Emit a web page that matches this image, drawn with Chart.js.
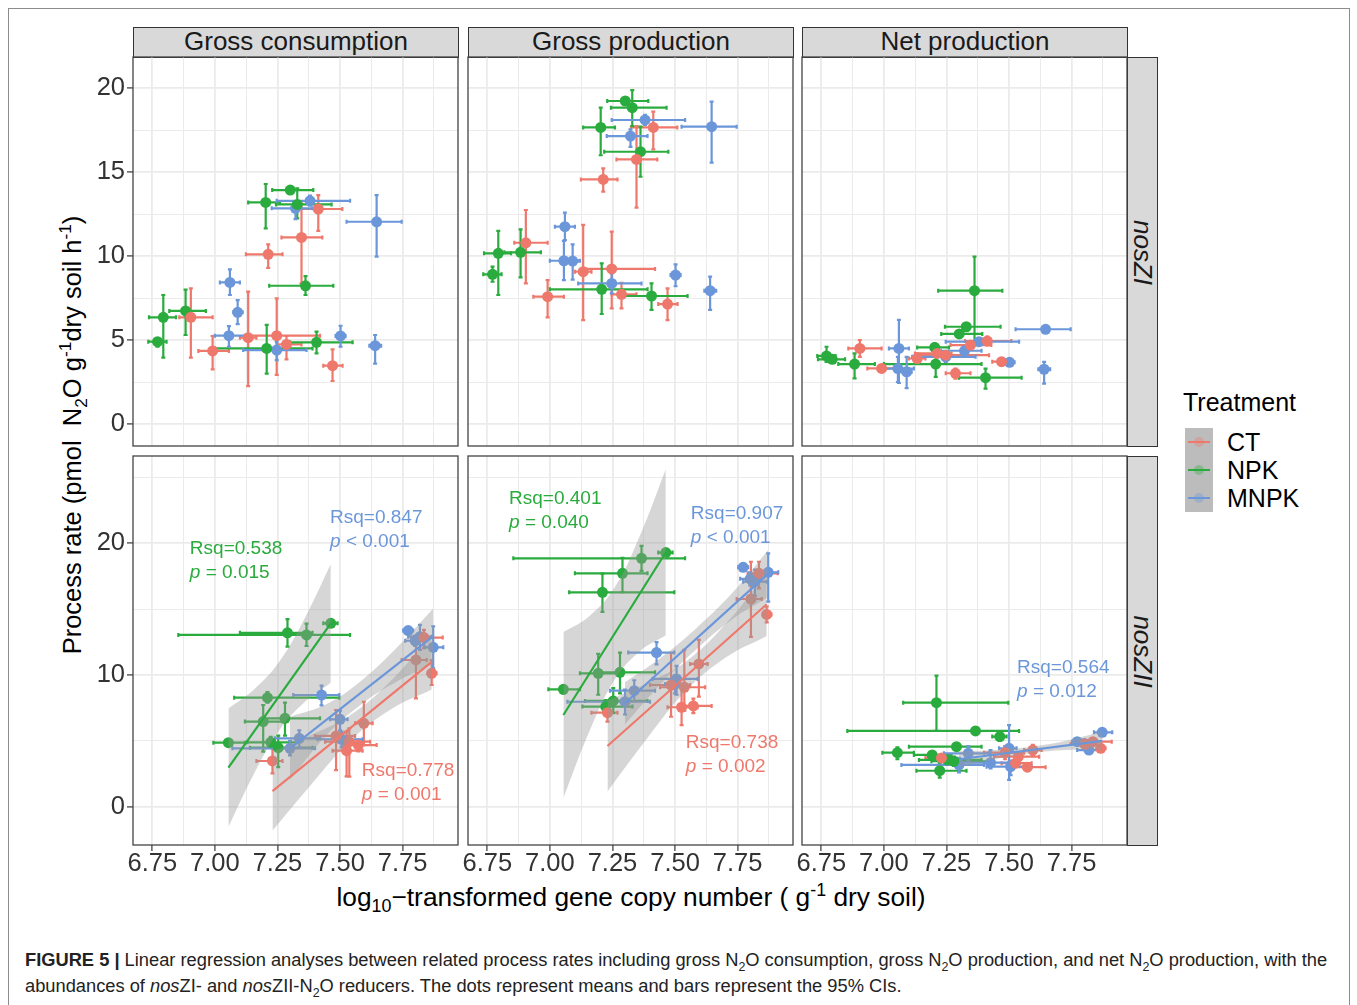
<!DOCTYPE html>
<html>
<head>
<meta charset="utf-8">
<title>Figure 5</title>
<script src="https://cdn.jsdelivr.net/npm/chart.js@4.4.1/dist/chart.umd.min.js"></script>
<style>
  body { margin: 0; width: 1357px; height: 1005px; background: #fff; position: relative; overflow: hidden;
         font-family: "Liberation Sans", Arial, sans-serif; color: #1a1a1a; }
  #frame { position: absolute; left: 8px; top: 8px; width: 1342px; height: 1002px; border: 1px solid #8c8c8c; box-sizing: border-box; }
  canvas { position: absolute; }
  .strip { position: absolute; background: #d9d9d9; border: 1px solid #333; box-sizing: border-box;
           font-size: 26px; display: flex; align-items: center; justify-content: center; white-space: nowrap; padding-bottom: 2px; }
  .strip.side { padding-bottom: 0; }
  .strip.side span { display: inline-block; transform: rotate(90deg); font-style: italic; }
  .title { position: absolute; font-size: 25.5px; white-space: nowrap; color: #000; }
  sub, sup { font-size: 68%; line-height: 0; }
  #legend { position: absolute; left: 1183px; top: 388px; }
  #legend .head { font-size: 25px; color: #000; }
  .key { position: absolute; left: 2px; width: 28px; height: 28px; background: #bcbcbc; }
  .key i { position: absolute; left: 9px; top: 9px; width: 10px; height: 10px; border-radius: 50%; opacity: 0.35; }
  .key b { position: absolute; left: 3px; right: 3px; top: 13px; height: 2px; }
  .klab { position: absolute; left: 44px; font-size: 25px; line-height: 28px; color: #000; }
  #caption { position: absolute; left: 25px; top: 947px; font-size: 18.3px; line-height: 26px; color: #222; white-space: nowrap; }
</style>
</head>
<body>
<div id="frame"></div>

<div class="strip" style="left:133px;top:27px;width:326px;height:31px;">Gross consumption</div>
<div class="strip" style="left:468px;top:27px;width:326px;height:31px;">Gross production</div>
<div class="strip" style="left:802px;top:27px;width:326px;height:31px;">Net production</div>
<div class="strip side" style="left:1127px;top:57px;width:31px;height:390px;"><span>nosZI</span></div>
<div class="strip side" style="left:1127px;top:456px;width:31px;height:390px;"><span>nosZII</span></div>

<div class="title" id="ytitle" style="left:72px;top:435px;transform:translate(-50%,-50%) rotate(-90deg);">Process rate (pmol&nbsp; N<sub>2</sub>O g<sup>-1</sup>dry soil h<sup>-1</sup>)</div>
<div class="title" id="xtitle" style="left:631px;top:897px;font-size:26.3px;transform:translate(-50%,-50%);">log<sub>10</sub>&minus;transformed gene copy number ( g<sup>-1</sup> dry soil)</div>

<div id="legend">
  <div class="head">Treatment</div>
  <div class="key" style="top:40px;"><i style="background:#ee786c"></i><b style="background:#ee786c"></b></div>
  <div class="klab" style="top:40px;">CT</div>
  <div class="key" style="top:68px;"><i style="background:#2aab3e"></i><b style="background:#2aab3e"></b></div>
  <div class="klab" style="top:68px;">NPK</div>
  <div class="key" style="top:96px;"><i style="background:#6b97da"></i><b style="background:#6b97da"></b></div>
  <div class="klab" style="top:96px;">MNPK</div>
</div>

<div id="caption"><b>FIGURE 5 |</b> Linear regression analyses between related process rates including gross N<sub>2</sub>O consumption, gross N<sub>2</sub>O production, and net N<sub>2</sub>O production, with the<br>abundances of <i>nos</i>ZI- and <i>nos</i>ZII-N<sub>2</sub>O reducers. The dots represent means and bars represent the 95% CIs.</div>

<script>
// colores por tratamiento
const treatments = ['CT', 'NPK', 'MNPK'];
const colorOf = { CT: '#ee786c', NPK: '#2aab3e', MNPK: '#6b97da' };

// abundancia nosZI (log10), [media, IC inferior, IC superior]
const zI_CT_x   = [[6.904,6.858,6.991],[6.991,6.934,7.056],[7.133,7.100,7.166],[7.213,7.124,7.270],[7.247,7.133,7.420],[7.286,7.247,7.346],[7.346,7.266,7.429],[7.413,7.324,7.509],[7.470,7.433,7.510]];
const zI_NPK_x  = [[6.771,6.734,6.807],[6.794,6.737,6.845],[6.883,6.818,6.964],[7.203,7.133,7.260],[7.301,7.229,7.393],[7.329,7.244,7.466],[7.362,7.217,7.473],[7.207,7.000,7.390],[7.406,7.300,7.550]];
const zI_MNPK_x = [[7.060,7.020,7.100],[7.091,7.074,7.111],[7.056,7.000,7.120],[7.247,7.113,7.366],[7.322,7.227,7.390],[7.380,7.247,7.540],[7.646,7.526,7.746],[7.502,7.482,7.522],[7.640,7.617,7.664]];

// abundancia nosZII (log10)
const zII_CT_x   = [[7.230,7.166,7.270],[7.484,7.400,7.560],[7.526,7.470,7.590],[7.537,7.440,7.620],[7.573,7.513,7.646],[7.595,7.560,7.630],[7.803,7.746,7.846],[7.835,7.790,7.910],[7.866,7.850,7.885]];
const zII_NPK_x  = [[7.054,6.994,7.120],[7.290,7.100,7.390],[7.366,6.854,7.540],[7.463,7.433,7.490],[7.210,7.077,7.497],[7.193,7.120,7.270],[7.280,7.190,7.420],[7.223,7.130,7.330],[7.253,7.140,7.390]];
const zII_MNPK_x = [[7.300,7.070,7.400],[7.337,7.240,7.420],[7.426,7.313,7.497],[7.500,7.460,7.530],[7.506,7.410,7.590],[7.772,7.752,7.792],[7.800,7.760,7.840],[7.819,7.772,7.866],[7.872,7.839,7.912]];

// tasas (pmol N2O g-1 h-1), [media, IC inferior, IC superior]
const gc_zI_CT   = [[6.35,3.95,8.08],[4.35,3.25,5.24],[5.14,2.26,7.88],[10.1,9.3,10.7],[5.26,2.92,7.48],[4.74,3.85,5.24],[11.11,8.37,13.1],[12.8,11.5,13.63],[3.47,2.56,4.44]];
const gc_zI_NPK  = [[4.9,4.6,5.1],[6.35,3.95,7.68],[6.73,5.3,8.0],[13.19,11.65,14.29],[13.93,13.7,14.1],[13.07,12.24,14.03],[8.23,7.68,8.8],[4.5,3.0,5.9],[4.86,4.2,5.5]];
const gc_zI_MNPK = [[8.43,7.68,9.2],[6.65,5.95,7.38],[5.26,4.6,5.83],[4.4,3.8,4.9],[12.84,12.2,13.2],[13.29,13.0,13.6],[12.04,9.96,13.63],[5.24,4.6,5.85],[4.66,3.6,5.3]];

const gp_zI_CT   = [[10.79,8.37,12.74],[7.58,6.35,8.57],[9.07,6.19,11.85],[14.56,13.83,15.22],[9.23,6.88,11.45],[7.72,6.88,8.41],[15.75,12.88,17.74],[17.66,16.35,18.6],[7.14,6.19,8.08]];
const gp_zI_NPK  = [[8.91,8.47,9.37],[10.16,7.68,11.5],[10.22,8.73,11.59],[17.66,16.0,18.83],[19.23,19.0,19.45],[18.83,17.74,19.88],[16.21,14.72,17.7],[8.02,6.55,9.56],[7.62,6.79,8.37]];
const gp_zI_MNPK = [[11.75,10.95,12.58],[9.7,8.6,10.7],[9.72,8.57,10.9],[8.37,7.78,8.97],[17.14,16.5,17.54],[18.1,17.8,18.4],[17.7,15.56,19.19],[8.87,8.2,9.5],[7.94,6.79,8.77]];

const np_zI_CT   = [[4.5,4.0,5.0],[3.31,3.1,3.5],[3.9,3.6,4.2],[4.2,4.0,4.4],[4.1,3.9,4.3],[3.02,2.7,3.3],[4.7,4.5,4.9],[4.94,4.7,5.2],[3.71,3.5,3.9]];
const np_zI_NPK  = [[4.05,3.7,4.6],[3.85,3.7,4.0],[3.57,2.72,4.2],[4.56,4.3,4.8],[5.36,5.2,5.5],[5.79,5.6,6.0],[7.94,4.7,9.96],[3.57,2.8,4.4],[2.76,2.1,3.3]];
const np_zI_MNPK = [[4.5,2.44,6.2],[3.11,2.14,4.0],[3.3,2.5,4.0],[4.0,3.7,4.3],[4.36,4.2,4.5],[4.9,4.8,5.0],[5.64,5.5,5.8],[3.67,3.5,3.8],[3.26,2.4,3.7]];

const gc_zII_CT   = [[3.47,2.53,4.43],[5.37,2.78,7.34],[4.25,2.3,5.7],[4.94,2.28,5.95],[4.68,4.2,5.1],[6.33,4.68,7.97],[11.14,8.23,12.53],[12.84,12.03,13.42],[10.13,9.24,11.14]];
const gc_zII_NPK  = [[4.86,4.6,5.1],[13.2,12.15,14.25],[13.04,12.2,13.9],[13.92,13.7,14.1],[8.28,7.9,8.7],[6.46,4.18,7.72],[6.71,5.4,7.9],[4.89,4.5,5.3],[4.48,3.0,5.4]];
const gc_zII_MNPK = [[4.43,3.9,5.0],[5.19,4.5,5.8],[8.48,7.7,9.2],[6.63,5.8,7.3],[5.12,4.5,5.7],[13.37,13.1,13.6],[12.6,12.2,13.0],[12.91,11.9,13.8],[12.1,10.5,13.7]];

const gp_zII_CT   = [[7.14,6.46,7.97],[9.24,6.83,11.67],[7.55,6.2,9.24],[9.07,7.3,11.9],[7.65,7.1,8.2],[10.84,8.35,12.66],[15.77,12.9,18.6],[17.72,16.58,18.6],[14.6,14.0,15.2]];
const gp_zII_NPK  = [[8.91,8.6,9.2],[17.72,16.3,18.9],[18.86,17.9,19.8],[19.3,19.1,19.5],[16.28,14.8,17.7],[10.13,8.5,11.6],[10.2,8.6,11.7],[7.6,7.0,8.1],[8.03,7.1,9.0]];
const gp_zII_MNPK = [[7.97,7.0,8.9],[8.81,8.0,9.6],[11.7,10.8,12.5],[9.3,8.6,10.0],[9.7,8.5,10.7],[18.18,17.9,18.5],[17.3,16.8,17.8],[17.09,16.0,18.0],[17.8,15.57,19.24]];

const np_zII_CT   = [[3.7,3.5,3.9],[4.1,3.6,4.6],[3.3,3.1,3.5],[3.8,3.5,4.1],[3.0,2.8,3.2],[4.3,3.9,4.7],[4.76,4.5,5.0],[4.94,4.7,5.2],[4.43,4.2,4.6]];
const np_zII_NPK  = [[4.1,3.6,4.5],[4.56,4.3,4.8],[5.75,5.5,6.0],[5.32,5.0,5.6],[7.9,5.75,9.95],[3.93,3.7,4.2],[3.45,3.1,3.8],[2.73,2.2,3.3],[3.55,3.2,3.9]];
const np_zII_MNPK = [[3.17,2.6,3.7],[4.05,3.5,4.6],[3.34,2.9,4.3],[4.43,2.03,6.2],[3.04,2.4,3.5],[4.94,4.7,5.2],[4.8,4.6,5.0],[4.3,4.0,4.6],[5.65,5.4,5.9]];

// rectas de regresión [x1, y1, x2, y2] y semiancho del IC (5 puntos)
const gc_zII_CT_fit   = [7.230, 1.18, 7.866, 11.00];  const gc_zII_CT_band   = [3.0, 1.85, 0.95, 1.1, 2.1];
const gc_zII_NPK_fit  = [7.054, 2.96, 7.463, 13.92];  const gc_zII_NPK_band  = [4.5, 3.2, 2.6, 3.2, 4.5];
const gc_zII_MNPK_fit = [7.300, 4.43, 7.872, 12.95];  const gc_zII_MNPK_band = [2.4, 1.2, 0.9, 1.3, 2.1];
const gp_zII_CT_fit   = [7.230, 4.61, 7.866, 15.37];  const gp_zII_CT_band   = [3.45, 2.1, 1.1, 1.3, 2.4];
const gp_zII_NPK_fit  = [7.054, 6.96, 7.463, 19.32];  const gp_zII_NPK_band  = [6.3, 4.4, 3.5, 4.4, 6.3];
const gp_zII_MNPK_fit = [7.300, 7.85, 7.872, 17.70];  const gp_zII_MNPK_band = [1.6, 1.0, 0.8, 1.0, 1.8];
const np_zII_MNPK_fit = [7.300, 3.60, 7.872, 5.00];   const np_zII_MNPK_band = [0.6, 0.35, 0.25, 0.35, 0.7];

// textos de regresión
const gc_zII_notes = [
  { who: 'NPK',  x: 6.900, y: 19.57, y2: 17.75, rsq: 'Rsq=0.538', p: '= 0.015' },
  { who: 'MNPK', x: 7.460, y: 21.92, y2: 20.10, rsq: 'Rsq=0.847', p: '< 0.001' },
  { who: 'CT',   x: 7.587, y: 2.70,  y2: 0.89,  rsq: 'Rsq=0.778', p: '= 0.001' }
];
const gp_zII_notes = [
  { who: 'NPK',  x: 6.837, y: 23.36, y2: 21.54, rsq: 'Rsq=0.401', p: '= 0.040' },
  { who: 'MNPK', x: 7.563, y: 22.22, y2: 20.40, rsq: 'Rsq=0.907', p: '< 0.001' },
  { who: 'CT',   x: 7.543, y: 4.84,  y2: 3.02,  rsq: 'Rsq=0.738', p: '= 0.002' }
];
const np_zII_notes = [
  { who: 'MNPK', x: 7.532, y: 10.53, y2: 8.71, rsq: 'Rsq=0.564', p: '= 0.012' }
];

// ejes
const xMin = 6.673, xMax = 7.971;
const xGrid = [6.75, 6.875, 7.0, 7.125, 7.25, 7.375, 7.5, 7.625, 7.75, 7.875];
const rowAxis = [
  { min: -1.31, max: 21.85, grid: [0, 2.5, 5, 7.5, 10, 12.5, 15, 17.5, 20], major: 5 },
  { min: -2.91, max: 26.63, grid: [0, 5, 10, 15, 20, 25], major: 10 }
];

const colLeft = [133, 468, 802];
const rowTop = [57, 456];
const PW = 325, PH = 389, M = 30, YW = 50, XH = 42;
const tickFont = { family: '"Liberation Sans", Arial, sans-serif', size: 25.5 };

const panels = [
  { row: 0, col: 0, ys: [gc_zI_CT, gc_zI_NPK, gc_zI_MNPK], xs: [zI_CT_x, zI_NPK_x, zI_MNPK_x], fits: [], notes: [] },
  { row: 0, col: 1, ys: [gp_zI_CT, gp_zI_NPK, gp_zI_MNPK], xs: [zI_CT_x, zI_NPK_x, zI_MNPK_x], fits: [], notes: [] },
  { row: 0, col: 2, ys: [np_zI_CT, np_zI_NPK, np_zI_MNPK], xs: [zI_CT_x, zI_NPK_x, zI_MNPK_x], fits: [], notes: [] },
  { row: 1, col: 0, ys: [gc_zII_CT, gc_zII_NPK, gc_zII_MNPK], xs: [zII_CT_x, zII_NPK_x, zII_MNPK_x],
    fits: [['CT', gc_zII_CT_fit, gc_zII_CT_band], ['NPK', gc_zII_NPK_fit, gc_zII_NPK_band], ['MNPK', gc_zII_MNPK_fit, gc_zII_MNPK_band]],
    notes: gc_zII_notes },
  { row: 1, col: 1, ys: [gp_zII_CT, gp_zII_NPK, gp_zII_MNPK], xs: [zII_CT_x, zII_NPK_x, zII_MNPK_x],
    fits: [['CT', gp_zII_CT_fit, gp_zII_CT_band], ['NPK', gp_zII_NPK_fit, gp_zII_NPK_band], ['MNPK', gp_zII_MNPK_fit, gp_zII_MNPK_band]],
    notes: gp_zII_notes },
  { row: 1, col: 2, ys: [np_zII_CT, np_zII_NPK, np_zII_MNPK], xs: [zII_CT_x, zII_NPK_x, zII_MNPK_x],
    fits: [['MNPK', np_zII_MNPK_fit, np_zII_MNPK_band]],
    notes: np_zII_notes }
];

function isMultiple(v, step) {
  return Math.abs(v / step - Math.round(v / step)) < 1e-6;
}

// barras de error (IC 95 %) en x e y
const errorBars = {
  id: 'errorBars',
  beforeDatasetsDraw(chart) {
    const { ctx, chartArea: a, scales: { x, y } } = chart;
    ctx.save();
    ctx.beginPath();
    ctx.rect(a.left, a.top, a.right - a.left, a.bottom - a.top);
    ctx.clip();
    ctx.lineWidth = 2.2;
    ctx.lineCap = 'butt';
    chart.data.datasets.forEach(ds => {
      if (!ds.errorBars) return;
      ctx.strokeStyle = ds.backgroundColor;
      ds.data.forEach(d => {
        const px = x.getPixelForValue(d.x), py = y.getPixelForValue(d.y);
        const x0 = x.getPixelForValue(d.xlo), x1 = x.getPixelForValue(d.xhi);
        const y0 = y.getPixelForValue(d.ylo), y1 = y.getPixelForValue(d.yhi);
        ctx.beginPath();
        ctx.moveTo(px, y0); ctx.lineTo(px, y1);
        ctx.moveTo(px - 2, y0); ctx.lineTo(px + 2, y0);
        ctx.moveTo(px - 2, y1); ctx.lineTo(px + 2, y1);
        ctx.moveTo(x0, py); ctx.lineTo(x1, py);
        ctx.moveTo(x0, py - 2); ctx.lineTo(x0, py + 2);
        ctx.moveTo(x1, py - 2); ctx.lineTo(x1, py + 2);
        ctx.stroke();
      });
    });
    ctx.restore();
  },
  afterDraw(chart) {
    const { ctx, chartArea: a } = chart;
    ctx.save();
    ctx.strokeStyle = '#444';
    ctx.lineWidth = 1.3;
    ctx.strokeRect(a.left, a.top, a.right - a.left, a.bottom - a.top);
    ctx.restore();
  }
};

function notesPlugin(list) {
  return {
    id: 'notes',
    afterDatasetsDraw(chart) {
      const { ctx, scales: { x, y } } = chart;
      ctx.save();
      ctx.textAlign = 'left';
      ctx.textBaseline = 'middle';
      list.forEach(n => {
        const px = x.getPixelForValue(n.x);
        ctx.fillStyle = colorOf[n.who];
        ctx.font = '19px "Liberation Sans", Arial, sans-serif';
        ctx.fillText(n.rsq, px, y.getPixelForValue(n.y));
        const py2 = y.getPixelForValue(n.y2);
        ctx.font = 'italic 19px "Liberation Sans", Arial, sans-serif';
        ctx.fillText('p', px, py2);
        const w = ctx.measureText('p').width;
        ctx.font = '19px "Liberation Sans", Arial, sans-serif';
        ctx.fillText(' ' + n.p, px + w, py2);
      });
      ctx.restore();
    }
  };
}

function pointSet(xs, ys, who) {
  return {
    data: xs.map((x, i) => ({ x: x[0], y: ys[i][0], xlo: x[1], xhi: x[2], ylo: ys[i][1], yhi: ys[i][2] })),
    backgroundColor: colorOf[who],
    pointRadius: 5.5,
    borderWidth: 0,
    errorBars: true,
    order: 3
  };
}

function fitSets(who, fit, band) {
  const [x1, y1, x2, y2] = fit;
  const n = band.length;
  const xs = band.map((_, i) => x1 + (x2 - x1) * i / (n - 1));
  const onLine = x => y1 + (y2 - y1) * (x - x1) / (x2 - x1);
  const lower = {
    data: xs.map((x, i) => ({ x: x, y: onLine(x) - band[i] })),
    showLine: true, pointRadius: 0, borderWidth: 0, borderColor: 'rgba(0,0,0,0)',
    tension: 0.4, fill: false, order: 2
  };
  const upper = {
    data: xs.map((x, i) => ({ x: x, y: onLine(x) + band[i] })),
    showLine: true, pointRadius: 0, borderWidth: 0, borderColor: 'rgba(0,0,0,0)',
    tension: 0.4, fill: '-1', backgroundColor: 'rgba(153,153,153,0.4)', order: 2
  };
  const line = {
    data: [{ x: x1, y: y1 }, { x: x2, y: y2 }],
    showLine: true, pointRadius: 0, borderColor: colorOf[who], borderWidth: 2.2, fill: false, order: 1
  };
  return [lower, upper, line];
}

function buildPanel(p) {
  const hasY = p.col === 0, hasX = p.row === 1;
  const ax = rowAxis[p.row];
  const cw = PW + 2 * M + (hasY ? YW : 0);
  const ch = PH + 2 * M + (hasX ? XH : 0);
  const cv = document.createElement('canvas');
  cv.width = cw; cv.height = ch;
  cv.style.width = cw + 'px'; cv.style.height = ch + 'px';
  cv.style.left = (colLeft[p.col] - M - (hasY ? YW : 0)) + 'px';
  cv.style.top = (rowTop[p.row] - M) + 'px';
  document.body.appendChild(cv);

  const datasets = [];
  treatments.forEach((t, i) => datasets.push(pointSet(p.xs[i], p.ys[i], t)));
  p.fits.forEach(f => datasets.push(...fitSets(f[0], f[1], f[2])));

  new Chart(cv.getContext('2d'), {
    type: 'scatter',
    data: { datasets: datasets },
    options: {
      responsive: false,
      animation: false,
      events: [],
      layout: { padding: M },
      plugins: { legend: { display: false }, tooltip: { enabled: false } },
      scales: {
        x: {
          type: 'linear', position: 'bottom', min: xMin, max: xMax,
          afterBuildTicks: s => { s.ticks = xGrid.map(v => ({ value: v })); },
          afterFit: s => { s.height = hasX ? XH : 0; },
          border: { display: false },
          grid: {
            color: '#ebebeb',
            lineWidth: c => isMultiple(c.tick.value, 0.25) ? 1.8 : 1.0,
            drawTicks: hasX, tickLength: 6, tickWidth: 1.3,
            tickColor: c => isMultiple(c.tick.value, 0.25) ? '#444' : 'rgba(0,0,0,0)'
          },
          ticks: {
            display: hasX, autoSkip: false, maxRotation: 0, padding: -2,
            font: tickFont, color: '#333',
            callback: v => isMultiple(v, 0.25) ? v.toFixed(2) : ''
          }
        },
        y: {
          type: 'linear', position: 'left', min: ax.min, max: ax.max,
          afterBuildTicks: s => { s.ticks = ax.grid.map(v => ({ value: v })); },
          afterFit: s => { s.width = hasY ? YW : 0; },
          border: { display: false },
          grid: {
            color: '#ebebeb',
            lineWidth: c => isMultiple(c.tick.value, ax.major) ? 1.8 : 1.0,
            drawTicks: hasY, tickLength: 6, tickWidth: 1.3,
            tickColor: c => isMultiple(c.tick.value, ax.major) ? '#444' : 'rgba(0,0,0,0)'
          },
          ticks: {
            display: hasY, autoSkip: false, padding: 2,
            font: tickFont, color: '#333',
            callback: v => isMultiple(v, ax.major) ? String(v) : ''
          }
        }
      }
    },
    plugins: [errorBars, notesPlugin(p.notes)]
  });
}

document.addEventListener('DOMContentLoaded', function () {
  panels.forEach(buildPanel);
});
</script>
</body>
</html>
